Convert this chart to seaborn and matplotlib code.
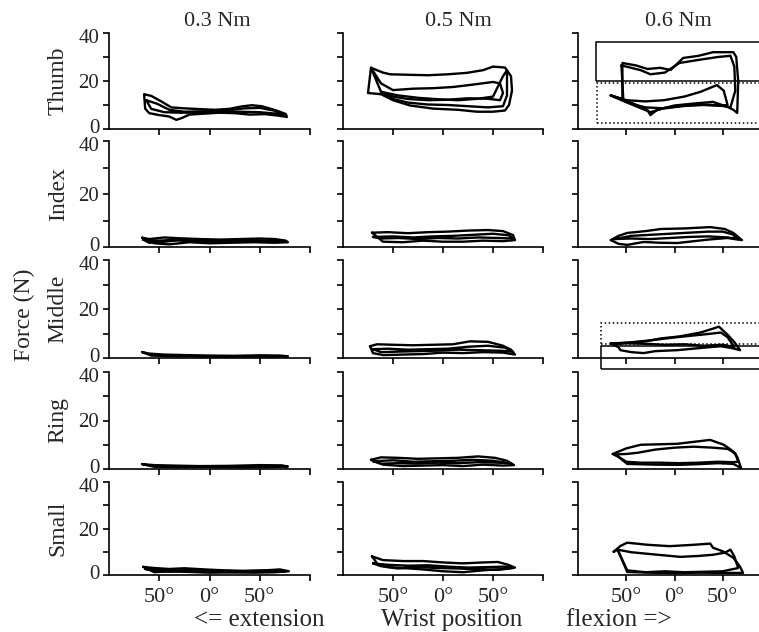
import matplotlib
matplotlib.use("Agg")
import matplotlib.pyplot as plt
import matplotlib.transforms as mtransforms
import seaborn as sns
import pandas as pd
from matplotlib.patches import Rectangle

# ---- labels ----
torques = ["0.3 Nm", "0.5 Nm", "0.6 Nm"]
fingers = ["Thumb", "Index", "Middle", "Ring", "Small"]
x_ticks = [-50, 0, 50, 100]
x_tick_labels = ["50°", "0°", "50°", ""]
y_ticks = [0, 10, 20, 30, 40]
y_tick_labels = ["0", "", "20", "", "40"]

# ---- force traces (wrist position in deg, force in N); one list of loops per panel ----
# 0.3 Nm
thumb_03 = [
    ([-65, -58, -48, -38, -25, -10, 5, 20, 32, 42, 52, 62, 70, 76, 77, 68, 55, 40, 25, 10, -5, -20, -28, -33, -40, -50, -60, -64, -65],
     [14.5, 13.8, 11.5, 9.0, 8.6, 8.3, 8.0, 8.4, 9.4, 9.9, 9.5, 8.3, 7.2, 6.2, 5.0, 5.6, 6.2, 6.0, 6.6, 6.8, 6.4, 6.0, 4.5, 3.8, 5.2, 5.8, 6.6, 8.5, 14.0]),
    ([-63, -52, -40, -25, -5, 15, 35, 50, 65, 74, 66, 50, 30, 10, -10, -30, -45, -58, -63],
     [12.0, 10.5, 8.0, 7.2, 7.4, 7.8, 8.6, 8.8, 7.6, 6.0, 6.4, 7.0, 7.2, 7.0, 6.8, 6.8, 7.0, 8.4, 12.0]),
]
index_03 = [
    ([-67, -60, -45, -30, -10, 10, 30, 50, 65, 76, 78, 65, 45, 20, 0, -20, -40, -55, -67],
     [3.5, 3.0, 3.6, 3.3, 3.0, 2.8, 3.0, 3.2, 3.0, 2.4, 1.8, 1.6, 1.8, 1.6, 1.4, 1.8, 1.0, 1.4, 3.5]),
    ([-66, -50, -35, -15, 5, 25, 45, 62, 74, 60, 40, 15, -10, -30, -45, -60, -66],
     [2.8, 2.4, 2.7, 2.2, 2.4, 2.3, 2.6, 2.3, 2.0, 2.0, 2.2, 1.9, 2.1, 2.6, 2.0, 1.6, 2.8]),
]
middle_03 = [
    ([-67, -60, -45, -25, 0, 25, 50, 70, 78, 60, 35, 10, -15, -40, -58, -67],
     [2.4, 1.8, 1.4, 1.2, 1.0, 0.9, 1.1, 1.0, 0.7, 0.5, 0.6, 0.5, 0.6, 0.8, 1.0, 2.4]),
]
ring_03 = [
    ([-67, -55, -35, -10, 20, 50, 72, 78, 60, 30, 0, -30, -55, -67],
     [2.0, 1.6, 1.4, 1.2, 1.3, 1.6, 1.5, 1.0, 0.8, 0.7, 0.8, 0.8, 0.9, 2.0]),
]
small_03 = [
    ([-66, -55, -40, -25, -5, 15, 35, 55, 70, 79, 65, 45, 20, 0, -20, -40, -55, -66],
     [3.5, 3.0, 2.6, 2.9, 2.4, 2.0, 1.8, 2.0, 2.4, 1.6, 1.2, 1.0, 1.1, 1.0, 1.3, 1.6, 1.2, 3.5]),
    ([-64, -50, -30, -10, 10, 30, 50, 68, 75, 60, 40, 20, 0, -20, -40, -55, -64],
     [2.6, 2.2, 2.0, 2.2, 1.8, 1.6, 1.8, 2.0, 1.4, 1.3, 1.5, 1.3, 1.5, 1.8, 1.4, 1.8, 2.6]),
]

# 0.5 Nm
thumb_05 = [
    ([-75, -72, -60, -53, -35, -15, 5, 24, 40, 50, 62, 68, 69, 66, 62, 50, 34, 15, -10, -33, -50, -62, -75],
     [15.0, 25.5, 23.5, 22.8, 22.6, 22.4, 22.8, 23.4, 24.5, 26.0, 25.6, 22.0, 16.0, 10.0, 7.7, 7.2, 7.2, 8.0, 8.5, 9.8, 12.0, 14.5, 15.0]),
    ([-72, -62, -50, -30, -10, 10, 30, 50, 57, 60, 57, 45, 25, 5, -15, -35, -50, -62, -72],
     [25.5, 19.0, 16.2, 16.8, 17.0, 17.5, 18.5, 19.6, 19.0, 15.0, 12.0, 12.6, 12.8, 12.2, 12.0, 12.5, 13.5, 15.5, 25.5]),
    ([-62, -45, -25, -5, 15, 35, 50, 60, 64, 64, 60, 45, 25, 5, -15, -35, -50, -62],
     [15.5, 14.0, 13.0, 12.4, 12.0, 12.6, 13.5, 22.0, 24.5, 14.0, 9.5, 9.0, 9.5, 10.0, 10.2, 11.0, 12.5, 15.5]),
]
index_05 = [
    ([-71, -55, -35, -15, 5, 25, 45, 60, 70, 72, 60, 40, 20, 0, -20, -40, -60, -71],
     [5.4, 5.6, 5.2, 5.6, 5.8, 6.2, 6.4, 6.0, 4.5, 2.6, 2.2, 2.4, 2.0, 2.0, 2.4, 1.8, 2.0, 5.4]),
    ([-70, -50, -30, -10, 10, 30, 50, 66, 70, 55, 35, 15, -5, -25, -45, -62, -70],
     [3.8, 4.0, 3.6, 4.0, 4.2, 4.6, 5.0, 4.4, 3.2, 3.4, 3.6, 3.2, 3.4, 3.0, 3.4, 3.2, 3.8]),
]
middle_05 = [
    ([-73, -66, -50, -30, -10, 10, 27, 45, 60, 68, 72, 60, 40, 20, 0, -20, -40, -60, -70, -73],
     [4.8, 5.6, 5.4, 5.2, 5.4, 5.6, 6.8, 6.6, 5.0, 3.4, 1.4, 2.2, 2.4, 2.0, 2.2, 1.6, 1.4, 1.2, 2.0, 4.8]),
    ([-70, -55, -35, -15, 5, 25, 45, 62, 70, 55, 35, 15, -5, -25, -45, -62, -70],
     [3.6, 3.8, 3.4, 3.6, 3.8, 4.6, 5.0, 4.2, 2.6, 3.0, 3.2, 3.4, 3.0, 2.8, 2.6, 2.4, 3.6]),
]
ring_05 = [
    ([-72, -62, -45, -25, -5, 15, 35, 52, 64, 71, 60, 40, 20, 0, -20, -40, -60, -72],
     [3.8, 4.8, 4.6, 4.2, 4.4, 4.6, 5.2, 4.6, 3.4, 1.6, 1.4, 1.8, 1.2, 1.6, 1.4, 1.2, 1.8, 3.8]),
    ([-70, -50, -30, -10, 10, 30, 50, 66, 55, 35, 15, -5, -25, -45, -62, -70],
     [3.2, 3.6, 3.0, 3.2, 3.4, 3.8, 3.4, 2.4, 2.6, 2.8, 2.4, 2.6, 2.2, 2.4, 2.2, 3.2]),
]
small_05 = [
    ([-71, -60, -40, -20, 0, 20, 40, 55, 65, 72, 60, 40, 20, 0, -20, -40, -55, -65, -71],
     [8.0, 6.4, 6.0, 6.0, 5.4, 5.0, 5.4, 5.6, 4.4, 3.2, 2.6, 2.0, 1.2, 1.6, 2.4, 3.0, 3.4, 4.4, 8.0]),
    ([-70, -55, -35, -15, 5, 25, 45, 62, 70, 55, 35, 15, -5, -25, -45, -62, -70],
     [5.0, 4.4, 4.0, 4.2, 3.6, 3.2, 3.4, 3.6, 3.0, 2.2, 2.4, 2.8, 3.0, 3.4, 2.8, 3.8, 5.0]),
]

# 0.6 Nm
thumb_06 = [
    ([-66, -54, -54, -40, -28, -15, -4, 9, 25, 40, 61, 64, 66, 65, 61, 55, 40, 20, 0, -18, -25, -28, -45, -60, -66],
     [14.0, 12.5, 27.5, 26.5, 25.0, 25.5, 24.6, 29.6, 30.5, 32.0, 32.0, 30.0, 20.0, 6.7, 8.0, 9.2, 11.3, 10.6, 9.8, 8.0, 5.8, 8.0, 11.0, 13.0, 14.0]),
    ([-55, -35, -25, -10, 5, 25, 45, 58, 62, 63, 58, 50, 30, 10, -10, -30, -45, -53, -55],
     [26.5, 24.5, 22.8, 23.5, 27.5, 28.8, 30.0, 30.5, 26.0, 16.0, 9.0, 9.6, 10.0, 9.6, 8.6, 9.0, 10.5, 12.0, 26.5]),
    ([-66, -50, -30, -11, 10, 27, 44, 51, 55, 50, 30, 10, -10, -25, -40, -55, -66],
     [14.0, 12.0, 11.5, 12.0, 13.5, 15.5, 18.3, 16.0, 10.0, 9.8, 10.2, 9.8, 8.8, 7.0, 9.5, 12.0, 14.0]),
]
index_06 = [
    ([-66, -58, -49, -30, -14, 10, 37, 52, 61, 70, 62, 55, 35, 3, -15, -32, -49, -58, -66],
     [2.6, 4.2, 5.3, 6.0, 6.8, 7.0, 7.5, 6.8, 5.3, 2.6, 3.0, 3.4, 2.8, 1.5, 1.6, 1.9, 0.8, 1.2, 2.6]),
    ([-62, -45, -25, -5, 15, 35, 50, 60, 66, 55, 35, 15, -5, -25, -45, -62],
     [3.0, 4.2, 4.6, 5.0, 5.4, 5.8, 5.8, 4.8, 3.0, 3.6, 4.0, 3.8, 3.4, 3.0, 3.2, 3.0]),
]
middle_06 = [
    ([-66, -50, -30, -14, 5, 27, 40, 46, 55, 62, 68, 60, 48, 30, 3, -20, -32, -45, -56, -58, -66],
     [6.0, 6.2, 6.8, 8.0, 8.8, 10.4, 12.0, 12.8, 9.5, 6.5, 3.2, 4.0, 4.8, 4.2, 3.2, 2.8, 2.0, 2.4, 3.2, 4.4, 6.0]),
    ([-64, -45, -25, 0, 20, 35, 48, 55, 62, 50, 30, 10, -10, -30, -50, -64],
     [5.8, 6.4, 7.2, 8.4, 9.2, 9.8, 10.4, 8.5, 4.5, 5.4, 5.0, 5.6, 5.4, 5.8, 6.0, 5.8]),
]
ring_06 = [
    ([-64, -50, -35, -15, 3, 20, 37, 51, 60, 65, 69, 61, 45, 25, 3, -20, -49, -58, -64],
     [6.2, 8.5, 10.0, 10.2, 10.4, 11.2, 12.0, 10.0, 7.5, 5.0, 0.4, 2.1, 2.4, 2.0, 1.7, 1.8, 2.1, 5.0, 6.2]),
    ([-62, -50, -38, -20, 0, 20, 40, 55, 63, 66, 60, 45, 25, 5, -15, -35, -50, -62],
     [6.0, 6.2, 6.7, 8.0, 8.8, 9.2, 8.8, 8.3, 6.5, 3.0, 2.8, 3.0, 2.6, 2.4, 2.6, 2.6, 3.0, 6.0]),
]
small_06 = [
    ([-63, -56, -49, -28, -5, 20, 37, 40, 50, 61, 68, 71, 50, 25, 0, -25, -49, -53, -59, -63],
     [10.0, 12.5, 13.9, 13.0, 12.4, 13.0, 13.5, 11.7, 10.2, 7.4, 3.5, 0.9, 0.9, 1.0, 0.8, 1.0, 1.3, 5.2, 10.9, 10.0]),
    ([-59, -45, -25, 6, 25, 40, 52, 58, 62, 66, 50, 30, 10, -10, -30, -49, -59],
     [10.9, 9.8, 9.0, 7.8, 8.2, 8.7, 9.6, 10.9, 8.0, 3.0, 1.6, 1.4, 1.2, 1.6, 1.2, 2.0, 10.9]),
]

# ---- highlight boxes: (x0, x1, y0, y1, linestyle) ----
thumb_06_boxes = [(-81, 110, 20.0, 36.2, "-"), (-80, 110, 2.5, 19.0, ":")]
middle_06_boxes = [(-76, 110, -4.4, 4.8, "-"), (-76, 110, 5.6, 14.4, ":")]

panels = [
    [thumb_03, thumb_05, thumb_06],
    [index_03, index_05, index_06],
    [middle_03, middle_05, middle_06],
    [ring_03, ring_05, ring_06],
    [small_03, small_05, small_06],
]
boxes = {(0, 2): thumb_06_boxes, (2, 2): middle_06_boxes}

# ---- layout in pixels of the 759x632 canvas ----
W, H = 759, 632
col_px = [(109, 310), (343, 543), (578, 771)]
row_px = [(33, 129), (141, 247), (260, 358), (372, 469), (482, 575)]

sns.set_style("ticks")
plt.rcParams["font.family"] = ["Liberation Serif", "DejaVu Serif"]
plt.rcParams["axes.linewidth"] = 1.2
plt.rcParams["xtick.major.width"] = 1.2
plt.rcParams["ytick.major.width"] = 1.2

fig = plt.figure(figsize=(W / 100, H / 100), dpi=100)
nudge_up = mtransforms.ScaledTranslation(0, 0.03, fig.dpi_scale_trans)
nudge_down = mtransforms.ScaledTranslation(0, -0.03, fig.dpi_scale_trans)

for r, finger in enumerate(fingers):
    for c, torque in enumerate(torques):
        x0, x1 = col_px[c]
        top, bot = row_px[r]
        ax = fig.add_axes([x0 / W, 1 - bot / H, (x1 - x0) / W, (bot - top) / H])
        ax.patch.set_alpha(0)

        rows = []
        for k, (xs, ys) in enumerate(panels[r][c]):
            for i, (xv, yv) in enumerate(zip(xs, ys)):
                rows.append({"pos": xv, "force": yv, "loop": k, "order": i})
        df = pd.DataFrame(rows)
        sns.lineplot(data=df, x="pos", y="force", units="loop", estimator=None,
                     sort=False, color="black", lw=1.7, ax=ax, legend=False)

        for bx0, bx1, by0, by1, ls in boxes.get((r, c), []):
            ax.add_patch(Rectangle((bx0, by0), bx1 - bx0, by1 - by0, fill=False,
                                   ec="black", lw=1.1, ls=ls, clip_on=False))

        ax.set_xlim(-100, 100)
        ax.set_ylim(0, 40)
        ax.set_xticks(x_ticks)
        ax.set_yticks(y_ticks)
        ax.tick_params(length=4, color="black", labelsize=15, pad=3)
        ax.tick_params(axis="x", pad=5, labelsize=16)
        ax.set_xlabel("")
        ax.set_ylabel("")
        if c == 0:
            ax.set_yticklabels(y_tick_labels)
            ax.set_ylabel(finger, fontsize=17, labelpad=7)
            ylabels = ax.get_yticklabels()
            ylabels[0].set_transform(ylabels[0].get_transform() + nudge_up)
            ylabels[-1].set_transform(ylabels[-1].get_transform() + nudge_down)
        else:
            ax.set_yticklabels([])
        if r == len(fingers) - 1:
            ax.set_xticklabels(x_tick_labels)
        else:
            ax.set_xticklabels([])
        for s in ["left", "bottom"]:
            ax.spines[s].set_color("black")
        sns.despine(ax=ax)

# column titles
for c, torque in enumerate(torques):
    cx = [217, 458, 678][c]
    fig.text(cx / W, 1 - 22 / H, torque, ha="center", va="center", fontsize=16)

fig.text(24 / W, 1 - 315 / H, "Force (N)", rotation=90, ha="center", va="center", fontsize=17)
fig.text(259 / W, 1 - 620 / H, "<= extension", ha="center", va="center", fontsize=18)
fig.text(452 / W, 1 - 620 / H, "Wrist position", ha="center", va="center", fontsize=18)
fig.text(619 / W, 1 - 620 / H, "flexion =>", ha="center", va="center", fontsize=18)

fig.savefig("out.png", dpi=100)
